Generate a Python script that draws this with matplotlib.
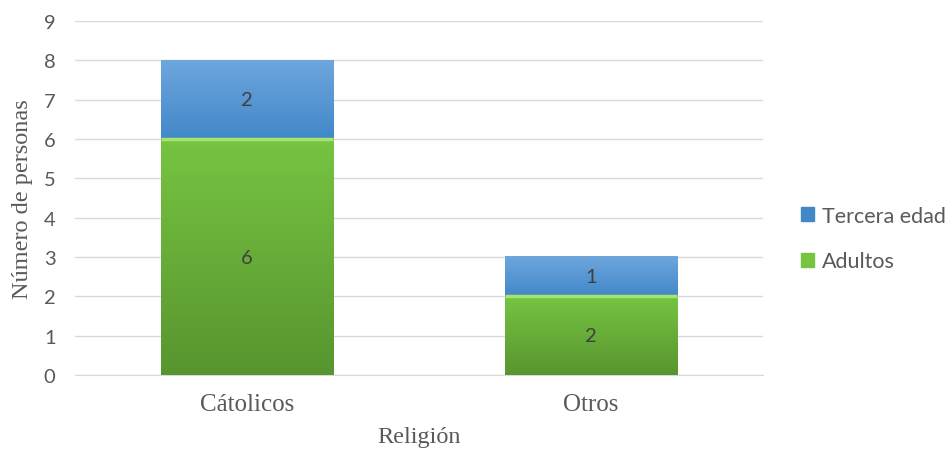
import numpy as np
import matplotlib.pyplot as plt
from matplotlib.colors import LinearSegmentedColormap

# Datos
categorias = ['Cátolicos', 'Otros']
adultos = [6, 2]
tercera_edad = [2, 1]

azul_claro, azul_oscuro = '#6ea6dd', '#4288c9'
verde_claro, verde_oscuro = '#76c442', '#58952f'

fig = plt.figure(figsize=(9.53, 4.52), dpi=100)
ax = fig.add_axes([0.0787, 0.168, 0.722, 0.783])

x = np.arange(len(categorias))
b1 = ax.bar(x, adultos, width=0.5, color=verde_claro, label='Adultos', zorder=3)
b2 = ax.bar(x, tercera_edad, width=0.5, bottom=adultos, color=azul_claro,
            label='Tercera edad', zorder=3)

# degradado vertical dentro de cada barra
def degradado(barras, c_arriba, c_abajo):
    cmap = LinearSegmentedColormap.from_list('g', [c_abajo, c_arriba])
    grad = np.linspace(0, 1, 100).reshape(-1, 1)
    for r in barras:
        x0, y0 = r.get_x(), r.get_y()
        w, h = r.get_width(), r.get_height()
        ax.imshow(grad, cmap=cmap, extent=(x0, x0 + w, y0, y0 + h),
                  origin='lower', aspect='auto', zorder=3.5)
        r.set_facecolor('none')

degradado(b1, verde_claro, verde_oscuro)
degradado(b2, azul_claro, azul_oscuro)

# borde claro arriba de las barras verdes
for r in b1:
    ax.plot([r.get_x(), r.get_x() + r.get_width()], [r.get_height()] * 2,
            color='#a6e36f', linewidth=2.5, zorder=4, solid_capstyle='butt')

for barras, vals in ((b1, adultos), (b2, tercera_edad)):
    for r, v in zip(barras, vals):
        ax.text(r.get_x() + r.get_width() / 2, r.get_y() + r.get_height() / 2,
                str(v), ha='center', va='center', fontsize=14.5,
                color='#404040', family='Lato', zorder=5)

ax.set_xlim(-0.5, 1.5)
ax.set_ylim(0, 9)
ax.set_yticks(range(10))
ax.set_xticks(x)
ax.set_xticklabels(categorias, family='Liberation Serif', fontsize=18, color='#595959')
for t in ax.get_yticklabels():
    t.set_family('Lato')
    t.set_fontsize(14.5)
    t.set_color('#595959')
ax.tick_params(axis='y', length=0, pad=14)
ax.tick_params(axis='x', length=0, pad=13)
ax.grid(axis='y', color='#d9d9d9', linewidth=1, zorder=0)
for s in ['top', 'right', 'left']:
    ax.spines[s].set_visible(False)
ax.spines['bottom'].set_color('#d9d9d9')

ax.set_xlabel('Religión', family='Liberation Serif', fontsize=17.5, color='#595959', labelpad=8)
ax.set_ylabel('Número de personas', family='Liberation Serif', fontsize=17.5, color='#595959', labelpad=8)

handles = [plt.Rectangle((0, 0), 1, 1, color=azul_oscuro),
           plt.Rectangle((0, 0), 1, 1, color=verde_claro)]
fig.legend(handles, ['Tercera edad', 'Adultos'], loc='center left',
           bbox_to_anchor=(0.841, 0.47), frameon=False, handlelength=0.6,
           handleheight=0.6, handletextpad=0.35, labelspacing=1.2,
           prop={'family': 'Lato', 'size': 15.5}, labelcolor='#595959',
           borderaxespad=0, borderpad=0)

plt.savefig('out.png', dpi=100)
